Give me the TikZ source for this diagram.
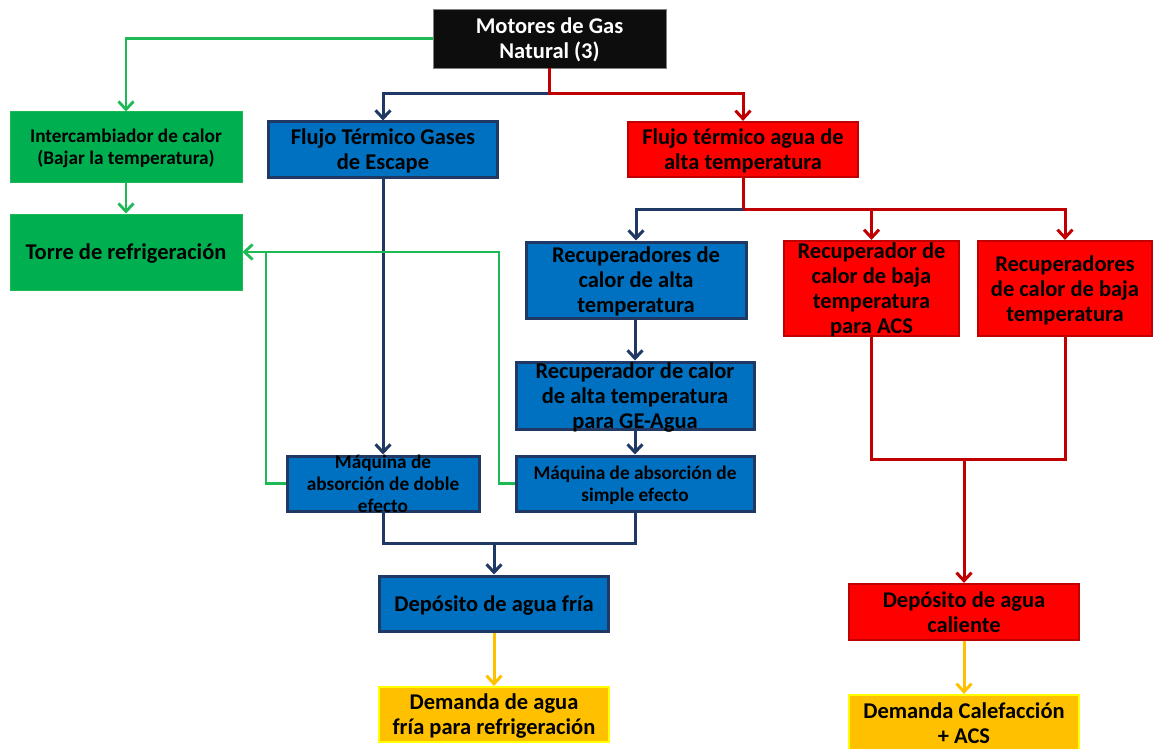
\documentclass[tikz,border=0pt]{standalone}
\usepackage{fontspec}
\setmainfont{Carlito}
\usetikzlibrary{arrows.meta}
\definecolor{cBlue}{HTML}{0070C0}
\definecolor{cNavy}{HTML}{1F3864}
\definecolor{cRed}{HTML}{FF0000}
\definecolor{cDRed}{HTML}{C00000}
\definecolor{cGreen}{HTML}{00B050}
\definecolor{cGreenL}{HTML}{1DB954}
\definecolor{cYel}{HTML}{FFC000}
\definecolor{cYelB}{HTML}{FFFF00}
\definecolor{cBlack}{HTML}{0D0D0D}
\definecolor{cGray}{HTML}{808080}
\newcommand{\tx}[1]{\raisebox{\dimexpr-0.25em-2.5pt\relax}[0pt][0pt]{\begin{tabular}{@{}c@{}}#1\end{tabular}}}
\tikzset{
  bx/.style={rectangle, inner sep=0pt, font=\bfseries\fontsize{22.5}{25}\selectfont},
  smallfont/.style={font=\bfseries\fontsize{19.3}{22}\selectfont},
  blubox/.style={bx, fill=cBlue, draw=cNavy, line width=3pt},
  redbox/.style={bx, fill=cRed, draw=cDRed, line width=2.2pt},
  grnbox/.style={bx, fill=cGreen, draw=cGreenL, line width=1pt},
  ylwbox/.style={bx, fill=cYel, draw=cYelB, line width=2.2pt},
  blkbox/.style={bx, fill=cBlack, draw=cGray, line width=0.8pt, text=white},
  con/.style={line width=3pt},
  bl/.style={con, draw=cNavy},
  rl/.style={con, draw=cDRed},
  gl/.style={con, draw=cGreenL, line width=2.8pt},
  yl/.style={con, draw=cYel},
  tip/.style={-{Straight Barb[length=8pt,width=15pt]}}
}
\begin{document}
\begin{tikzpicture}[x=1pt,y=-1pt]
\useasboundingbox (0,0) rectangle (1153,749);
% boxes
\node[blkbox, minimum width=233pt, minimum height=59pt] (mot) at (549.5,38.5) {\tx{Motores de Gas\\Natural (3)}};
\node[grnbox, smallfont, minimum width=232pt, minimum height=70pt] (inter) at (126,147) {\tx{Intercambiador de calor\\(Bajar la temperatura)}};
\node[grnbox, minimum width=232pt, minimum height=76pt] (torre) at (126,252) {\tx{Torre de refrigeración}};
\node[blubox, minimum width=229pt, minimum height=55pt] (gases) at (383,149.5) {\tx{Flujo Térmico Gases\\de Escape}};
\node[redbox, minimum width=230pt, minimum height=55pt] (agua) at (743,149.5) {\tx{Flujo térmico agua de\\alta temperatura}};
\node[blubox, minimum width=220pt, minimum height=76pt] (recalta) at (636,280) {\tx{Recuperadores de\\calor de alta\\temperatura}};
\node[redbox, minimum width=175pt, minimum height=95pt] (acs) at (871.5,288.5) {\tx{Recuperador de\\calor de baja\\temperatura\\para ACS}};
\node[redbox, minimum width=174pt, minimum height=95pt] (rbaja) at (1065,288.5) {\tx{Recuperadores\\de calor de baja\\temperatura}};
\node[blubox, minimum width=238pt, minimum height=67pt] (ge) at (635,395.5) {\tx{Recuperador de calor\\de alta temperatura\\para GE-Agua}};
\node[blubox, smallfont, minimum width=192pt, minimum height=55pt] (doble) at (383,483.5) {\tx{Máquina de\\absorción de doble\\efecto}};
\node[blubox, smallfont, minimum width=238pt, minimum height=55pt] (simple) at (635,483.5) {\tx{Máquina de absorción de\\simple efecto}};
\node[blubox, minimum width=229pt, minimum height=55pt] (fria) at (494,603.5) {\tx{Depósito de agua fría}};
\node[ylwbox, minimum width=230pt, minimum height=55pt] (dfria) at (494,714.5) {\tx{Demanda de agua\\fría para refrigeración}};
\node[redbox, minimum width=230pt, minimum height=56pt] (cal) at (964,612) {\tx{Depósito de agua\\caliente}};
\node[ylwbox, minimum width=230pt, minimum height=56pt] (dcal) at (964,723) {\tx{Demanda Calefacción\\+ ACS}};
% junctions
\coordinate (j1) at (549.5,94);
\coordinate (j2) at (743,209);
\coordinate (g1) at (499,252);
\coordinate (g2) at (266,252);
\coordinate (bj) at (494,543);
\coordinate (rj) at (964,459);
% connectors
\draw[gl, tip] (mot.west) -| (inter.north);
\draw[gl, tip] (inter.south) -- (torre.north);
\draw[bl, tip] (j1) -| (gases.north);
\draw[rl, tip] (mot.south) -- (j1) -| (agua.north);
\draw[bl, tip] (gases.south) -- (doble.north);
\draw[rl] (agua.south) -- (j2);
\draw[bl, tip] (j2) -| (recalta.north);
\draw[rl, tip] (j2) -| (acs.north);
\draw[rl, tip] (j2) -| (rbaja.north);
\draw[bl, tip] (ge.north |- recalta.south) -- (ge.north);
\draw[bl, tip] (ge.south) -- (simple.north);
\draw[gl, tip] (simple.west) -| (g1) -- (torre.east);
\draw[gl] (doble.west) -| (g2);
\draw[bl] (doble.south) |- (bj);
\draw[bl] (simple.south) |- (bj);
\draw[bl, tip] (bj) -- (fria.north);
\draw[yl, tip] (fria.south) -- (dfria.north);
\draw[rl] (acs.south) |- (rj);
\draw[rl] (rbaja.south) |- (rj);
\draw[rl, tip] (rj) -- (cal.north);
\draw[yl, tip] (cal.south) -- (dcal.north);
\end{tikzpicture}
\end{document}
